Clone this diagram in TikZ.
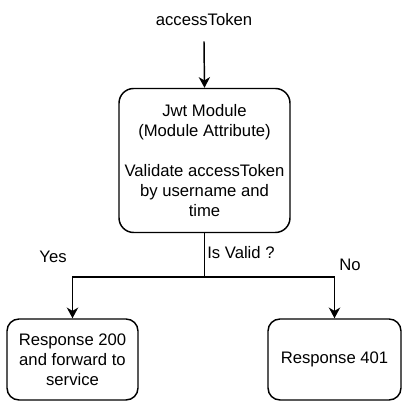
\documentclass[tikz,border=0pt]{standalone}
\usepackage{fontspec}
\setmainfont{Liberation Sans}
\usetikzlibrary{arrows.meta}
\begin{document}
\begin{tikzpicture}[x=0.75pt,y=-0.75pt,
  box/.style={draw, line width=1.1pt, rounded corners=11pt, align=center, inner sep=0pt,
    font=\fontsize{12.5pt}{15pt}\selectfont},
  lbl/.style={inner sep=0pt, font=\fontsize{12.5pt}{15pt}\selectfont},
  conn/.style={line width=1.1pt, -{Stealth[length=8pt,width=8.5pt,inset=2.5pt]}},
  plain/.style={line width=1.1pt}]
\useasboundingbox (0,0) rectangle (411,402);
\node[lbl, minimum height=31.5pt] (tok) at (204,20) {accessToken};
\node[box, minimum width=128.25pt, minimum height=108pt] (jwt) at (204.5,160.5)
  {Jwt Module\\(Module Attribute)\\[15pt]Validate accessToken\\by username and\\time};
\node[box, rounded corners=9pt, minimum width=98.25pt, minimum height=60.75pt] (ok) at (72.5,359.5)
  {Response 200\\and forward to\\service};
\node[box, rounded corners=9pt, minimum width=99.75pt, minimum height=60.75pt] (no) at (334.5,359.5)
  {Response 401};
\coordinate (split) at (204.5,277);
\draw[conn] (tok.south) -- (jwt.north);
\draw[plain] (jwt.south) -- (split);
\draw[conn] (split) -| (ok.north);
\draw[conn] (split) -| (no.north);
\node[lbl] (yes) at (53,257) {Yes};
\node[lbl, anchor=west] (isvalid) at (207,253) {Is Valid ?};
\node[lbl] (nolbl) at (350,265) {No};
\end{tikzpicture}
\end{document}
